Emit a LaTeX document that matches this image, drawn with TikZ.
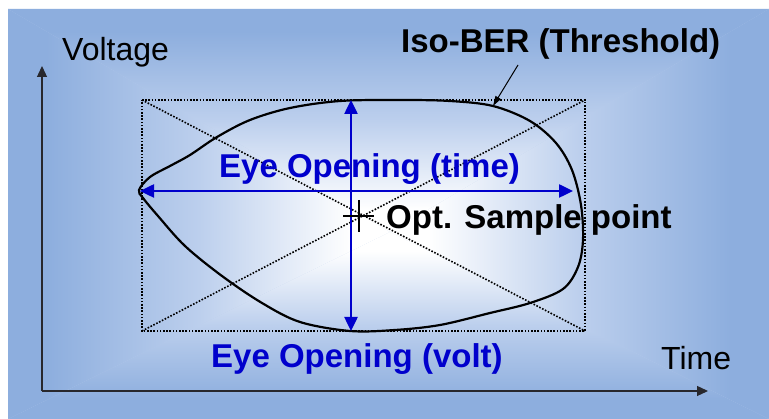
\documentclass[tikz,border=0pt]{standalone}
\usepackage{fontspec}
\setmainfont{Liberation Sans}
\usetikzlibrary{arrows.meta}
\definecolor{bgblue}{RGB}{141,174,222}
\definecolor{bgmid}{RGB}{188,207,237}
\definecolor{eyeblue}{RGB}{0,0,204}
\pgfdeclareverticalshading{eyefade}{100bp}{color(0bp)=(bgblue); color(25bp)=(bgblue); color(30bp)=(bgblue); color(50bp)=(bgmid); color(70bp)=(white); color(100bp)=(white)}
\tikzset{
  bgpart/.style={shading=eyefade, draw=none},
  axisline/.style={line width=1.3pt, draw={rgb,255:red,40;green,40;blue,45}, -{Triangle[length=11pt,width=10pt]}},
  dotline/.style={line width=1.6pt, dash pattern=on 1.6pt off 1.6pt, black},
  eyecurve/.style={line width=2.2pt, black, line join=round},
  bluearrow/.style={line width=2.5pt, eyeblue, {Triangle[length=14pt,width=13pt]}-{Triangle[length=14pt,width=13pt]}},
  bigbold/.style={inner sep=0pt, anchor=base west, font=\fontsize{33}{33}\selectfont\bfseries},
  axlabel/.style={inner sep=0pt, anchor=base west, font=\fontsize{32}{32}\selectfont},
  pointer/.style={line width=1pt, black, -{Triangle[length=10pt,width=6pt]}}
}
\begin{document}
\begin{tikzpicture}[x=1pt,y=-1pt]
\useasboundingbox (0,0) rectangle (769,419);
% background
\fill[white] (0,0) rectangle (769,419);
\coordinate (C) at (390,232);
\coordinate (bTL) at (8,9);
\coordinate (bTR) at (769,9);
\coordinate (bBL) at (8,419);
\coordinate (bBR) at (769,419);
\fill[bgmid] (bTL) rectangle (bBR);
\path[bgpart, shading angle=180] (bTL) -- (bTR) -- (C) -- cycle;
\path[bgpart, shading angle=0] (bBL) -- (bBR) -- (C) -- cycle;
\path[bgpart, shading angle=270] (bTL) -- (bBL) -- (C) -- cycle;
\path[bgpart, shading angle=90] (bTR) -- (bBR) -- (C) -- cycle;
% axes
\coordinate (O) at (42,391);
\coordinate (ytip) at (42,66);
\coordinate (xtip) at (708,391);
\draw[axisline] (O) -- (ytip);
\draw[axisline] (O) -- (xtip);
% dotted box
\coordinate (rTL) at (142,100);
\coordinate (rTR) at (585,100);
\coordinate (rBL) at (142,331);
\coordinate (rBR) at (585,331);
\draw[dotline] (rTL) -- (rTR) -- (rBR) -- (rBL) -- cycle;
\draw[dotline] (rTL) -- (rBR);
\draw[dotline] (rBL) -- (rTR);
% eye contour
\draw[eyecurve] plot[smooth cycle, tension=0.55] coordinates {
  (139,190) (150,177) (170,166) (190,155) (217,137) (250,120) (290,108)
  (340,101) (400,100) (450,101) (493,106) (530,121) (556,143) (572,170)
  (581,205) (583,240) (578,267) (563,289) (530,303) (490,313) (440,325)
  (395,330) (350,331) (300,322) (262,303) (222,276) (185,246) (158,216) (143,198)};
% blue arrows
\coordinate (vTop) at (351,100);
\coordinate (vBot) at (351,331);
\coordinate (hL) at (140,191);
\coordinate (hR) at (573,191);
\draw[bluearrow] (vTop) -- (vBot);
\draw[bluearrow] (hL) -- (hR);
% sample point cross
\coordinate (sp) at (359,216);
\coordinate (spL) at (343,216);
\coordinate (spR) at (374,216);
\coordinate (spT) at (359,200);
\coordinate (spB) at (359,232);
\draw[line width=1.5pt, black] (spL) -- (spR);
\draw[line width=1.5pt, black] (spT) -- (spB);
% labels
\node[axlabel] (volt) at (62,61) {Voltage};
\node[axlabel] (time) at (661,370) {Time};
\node[bigbold, black] (iso) at (401,53) {Iso-BER (Threshold)};
\node[bigbold, eyeblue] (eyet) at (219,178) {Eye Opening (time)};
\node[bigbold, black] (opt) at (386,229) {Opt. Sample point};
\node[bigbold, eyeblue] (eyev) at (211,368) {Eye Opening (volt)};
% pointer
\coordinate (pStart) at (518,65);
\coordinate (pEnd) at (493,106);
\draw[pointer] (pStart) -- (pEnd);
\end{tikzpicture}
\end{document}
